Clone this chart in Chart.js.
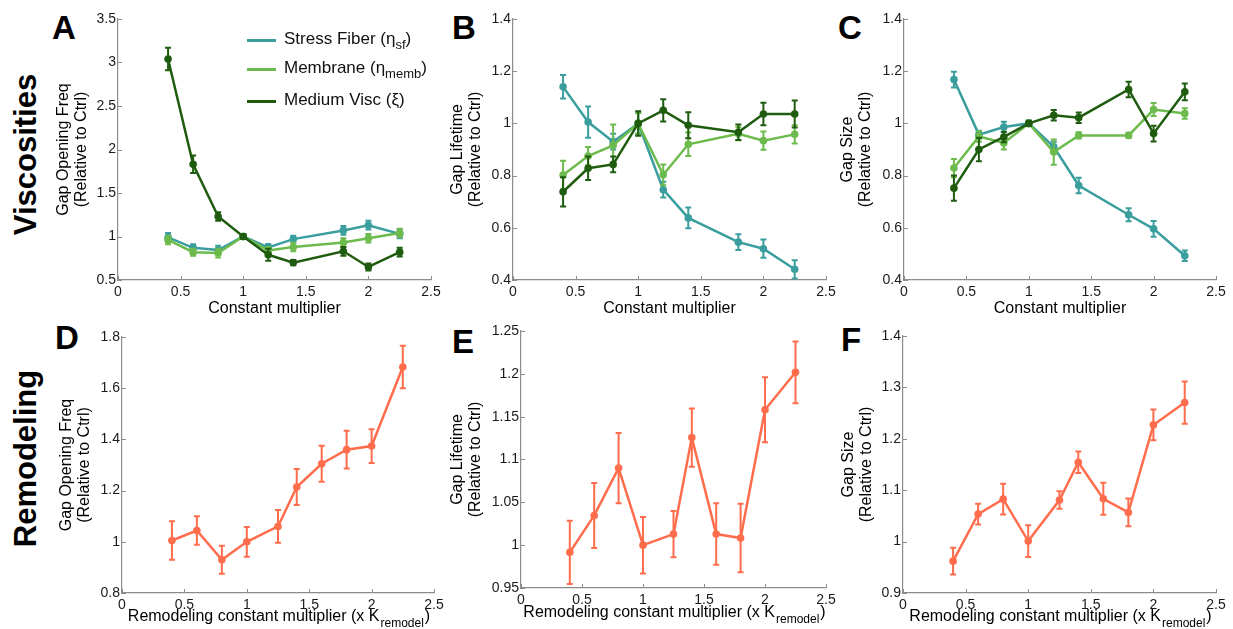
<!DOCTYPE html>
<html>
<head>
<meta charset="utf-8">
<script src="https://cdn.jsdelivr.net/npm/chart.js@4.4.1/dist/chart.umd.min.js"></script>
<style>
  body { margin: 0; background: #fff; font-family: "Liberation Sans", Arial, sans-serif; }
  #fig { position: relative; width: 1233px; height: 629px; overflow: hidden; }
  #fig canvas { position: absolute; }
  .letter { position: absolute; font-weight: bold; font-size: 33px; line-height: 33px; color: #000; }
  .row { position: absolute; width: 240px; text-align: center; font-weight: bold; font-size: 31px;
         line-height: 31px; transform: rotate(-90deg); white-space: nowrap; color: #000; }
  .leg { position: absolute; left: 284px; font-size: 17px; line-height: 20px; white-space: nowrap; color: #111; }
  .leg sub { font-size: 13px; vertical-align: -5px; line-height: 0; }
  .swatch { position: absolute; left: 247px; width: 29px; height: 3px; }
</style>
</head>
<body>
<div id="fig">
  <div class="row" style="left:-95px;top:139px">Viscosities</div>
  <div class="row" style="left:-95px;top:443px">Remodeling</div>

  <div class="letter" style="left:52px;top:11px">A</div>
  <div class="letter" style="left:452px;top:11px">B</div>
  <div class="letter" style="left:838px;top:11px">C</div>
  <div class="letter" style="left:55px;top:321px">D</div>
  <div class="letter" style="left:452px;top:325px">E</div>
  <div class="letter" style="left:841px;top:323px">F</div>
</div>

<script>
// ── Data ───────────────────────────────────────────────────
const xVisc  = [0.4, 0.6, 0.8, 1, 1.2, 1.4, 1.8, 2, 2.25];
const xRemod = [0.4, 0.6, 0.8, 1, 1.25, 1.4, 1.6, 1.8, 2, 2.25];
const xTicks = [0, 0.5, 1, 1.5, 2, 2.5];

// A: gap opening frequency
const freqSF      = [0.99, 0.87, 0.845, 1.0, 0.875, 0.97, 1.07, 1.13, 1.03];
const freqSFErr   = [0.05, 0.04, 0.05, 0.03, 0.04, 0.04, 0.05, 0.05, 0.05];
const freqMemb    = [0.96, 0.82, 0.81, 1.0, 0.84, 0.88, 0.93, 0.98, 1.04];
const freqMembErr = [0.05, 0.04, 0.05, 0.03, 0.04, 0.05, 0.05, 0.05, 0.05];
const freqMed     = [3.04, 1.83, 1.23, 1.0, 0.79, 0.70, 0.83, 0.65, 0.82];
const freqMedErr  = [0.13, 0.10, 0.05, 0.03, 0.07, 0.03, 0.05, 0.04, 0.05];

// B: gap lifetime
const lifeSF      = [1.14, 1.005, 0.93, 1.0, 0.746, 0.638, 0.545, 0.52, 0.441];
const lifeSFErr   = [0.045, 0.06, 0.03, 0.04, 0.03, 0.04, 0.03, 0.035, 0.035];
const lifeMemb    = [0.802, 0.875, 0.916, 1.0, 0.803, 0.92, 0.96, 0.934, 0.958];
const lifeMembErr = [0.055, 0.035, 0.08, 0.04, 0.04, 0.045, 0.025, 0.035, 0.035];
const lifeMed     = [0.738, 0.828, 0.843, 1.0, 1.05, 0.993, 0.966, 1.036, 1.036];
const lifeMedErr  = [0.056, 0.045, 0.03, 0.047, 0.043, 0.05, 0.03, 0.043, 0.052];

// C: gap size
const sizeSF      = [1.168, 0.957, 0.986, 1.0, 0.91, 0.762, 0.65, 0.596, 0.493];
const sizeSFErr   = [0.03, 0.015, 0.02, 0.01, 0.02, 0.03, 0.025, 0.03, 0.02];
const sizeMemb    = [0.829, 0.95, 0.925, 1.0, 0.89, 0.954, 0.954, 1.053, 1.038];
const sizeMembErr = [0.035, 0.02, 0.025, 0.01, 0.048, 0.012, 0.01, 0.025, 0.02];
const sizeMed     = [0.752, 0.90, 0.948, 1.0, 1.031, 1.022, 1.13, 0.961, 1.121];
const sizeMedErr  = [0.048, 0.045, 0.02, 0.01, 0.02, 0.02, 0.03, 0.03, 0.032];

// D-F: remodeling
const remFreq     = [1.005, 1.044, 0.93, 1.0, 1.06, 1.214, 1.305, 1.36, 1.374, 1.683];
const remFreqErr  = [0.075, 0.056, 0.055, 0.058, 0.064, 0.07, 0.07, 0.074, 0.066, 0.083];
const remLife     = [0.9916, 1.0347, 1.09, 1.0, 1.0129, 1.1256, 1.013, 1.0083, 1.158, 1.2018];
const remLifeErr  = [0.037, 0.038, 0.041, 0.033, 0.027, 0.034, 0.036, 0.04, 0.038, 0.036];
const remSize     = [0.962, 1.0535, 1.0826, 1.001, 1.081, 1.1545, 1.0833, 1.0567, 1.227, 1.2705];
const remSizeErr  = [0.026, 0.02, 0.03, 0.031, 0.017, 0.021, 0.031, 0.027, 0.03, 0.041];

// y tick labels per panel
const yTicksA = [0.5, 1, 1.5, 2, 2.5, 3, 3.5];
const yTicksB = [0.4, 0.6, 0.8, 1, 1.2, 1.4];
const yTicksC = [0.4, 0.6, 0.8, 1, 1.2, 1.4];
const yTicksD = [0.8, 1, 1.2, 1.4, 1.6, 1.8];
const yTicksE = [0.95, 1, 1.05, 1.1, 1.15, 1.2, 1.25];
const yTicksF = [0.9, 1, 1.1, 1.2, 1.3, 1.4];

// ── Style ──────────────────────────────────────────────────
const C_SF = '#3a9e9e', C_MEMB = '#6cbb4c', C_MED = '#1f5c0f', C_REM = '#ff6d4d';
const AXIS = '#8c8c8c';
const FONT = '"Liberation Sans", Arial, sans-serif';

Chart.defaults.font.family = FONT;
Chart.defaults.color = '#1a1a1a';

const fig = document.getElementById('fig');

// ── Plugins ────────────────────────────────────────────────
const errorBars = {
  id: 'errorBars',
  afterDatasetDraw(chart, args) {
    const ds = chart.data.datasets[args.index];
    if (!ds.errors) return;
    const { x: xs, y: ys } = chart.scales;
    const ctx = chart.ctx;
    ctx.save();
    ctx.strokeStyle = ds.borderColor;
    ctx.lineWidth = 2;
    ds.data.forEach((d, i) => {
      const e = ds.errors[i];
      const px = xs.getPixelForValue(d.x);
      const top = ys.getPixelForValue(d.y + e);
      const bot = ys.getPixelForValue(d.y - e);
      ctx.beginPath();
      ctx.moveTo(px, top); ctx.lineTo(px, bot);
      ctx.moveTo(px - 3, top); ctx.lineTo(px + 3, top);
      ctx.moveTo(px - 3, bot); ctx.lineTo(px + 3, bot);
      ctx.stroke();
    });
    ctx.restore();
  }
};

// short MATLAB-style ticks pointing into the plot
const innerTicks = {
  id: 'innerTicks',
  afterDraw(chart) {
    const { x, y } = chart.scales;
    const a = chart.chartArea, ctx = chart.ctx;
    ctx.save();
    ctx.strokeStyle = AXIS;
    ctx.lineWidth = 1;
    ctx.beginPath();
    x.ticks.forEach(t => {
      const p = Math.round(x.getPixelForValue(t.value)) + 0.5;
      ctx.moveTo(p, a.bottom); ctx.lineTo(p, a.bottom - 4);
    });
    y.ticks.forEach(t => {
      const p = Math.round(y.getPixelForValue(t.value)) + 0.5;
      ctx.moveTo(a.left, p); ctx.lineTo(a.left + 4, p);
    });
    ctx.stroke();
    ctx.restore();
  }
};

// x-axis title with optional subscript, e.g. (x K_remodel)
const xTitle = {
  id: 'xTitle',
  afterDraw(chart, args, opts) {
    if (!opts.text) return;
    const ctx = chart.ctx, a = chart.chartArea;
    ctx.save();
    ctx.fillStyle = '#000';
    ctx.textBaseline = 'alphabetic';
    ctx.textAlign = 'left';
    ctx.font = '16px ' + FONT;
    const w1 = ctx.measureText(opts.text).width;
    const w3 = opts.sub ? ctx.measureText(')').width : 0;
    ctx.font = '12px ' + FONT;
    const w2 = opts.sub ? ctx.measureText(opts.sub).width : 0;
    let x0 = (a.left + a.right) / 2 - (w1 + w2 + w3) / 2;
    const yb = a.bottom + opts.offset;
    ctx.font = '16px ' + FONT;
    ctx.fillText(opts.text, x0, yb);
    if (opts.sub) {
      ctx.font = '12px ' + FONT;
      ctx.fillText(opts.sub, x0 + w1 + 1, yb + 6);
      ctx.font = '16px ' + FONT;
      ctx.fillText(')', x0 + w1 + w2 + 2, yb);
    }
    ctx.restore();
  }
};

// ── Panel builder ──────────────────────────────────────────
function series(xs, ys, errs, color, order) {
  return {
    data: xs.map((x, i) => ({ x, y: ys[i] })),
    errors: errs,
    borderColor: color,
    backgroundColor: color,
    borderWidth: 2.5,
    pointRadius: 3.8,
    pointBorderWidth: 0,
    pointBackgroundColor: color,
    order,
  };
}

function panel(p) {
  const [bl, bt, bw, bh] = p.box;
  const [al, at, ar, ab] = p.area;
  const cv = document.createElement('canvas');
  cv.width = bw; cv.height = bh;
  cv.style.left = bl + 'px'; cv.style.top = bt + 'px';
  fig.appendChild(cv);

  const yW = al - bl, xH = bt + bh - ab;

  new Chart(cv, {
    type: 'line',
    data: { datasets: p.datasets },
    options: {
      responsive: false,
      animation: false,
      devicePixelRatio: 1,
      layout: { padding: { left: 0, top: at - bt, right: bl + bw - ar, bottom: 0 } },
      plugins: {
        legend: { display: false },
        tooltip: { enabled: false },
        xTitle: { text: p.xTitle, sub: p.xSub, offset: p.xOffset },
      },
      scales: {
        x: {
          type: 'linear', min: 0, max: 2.5,
          afterBuildTicks: s => { s.ticks = xTicks.map(v => ({ value: v })); },
          afterFit: s => { s.height = xH; s.paddingLeft = 0; s.paddingRight = 0; },
          grid: { drawOnChartArea: false, drawTicks: false },
          border: { display: true, color: AXIS, width: 1.2 },
          ticks: { padding: 4, font: { size: 14 }, maxRotation: 0, callback: v => String(v) },
        },
        y: {
          type: 'linear', min: p.yTicks[0], max: p.yTicks[p.yTicks.length - 1],
          afterBuildTicks: s => { s.ticks = p.yTicks.map(v => ({ value: v })); },
          afterFit: s => { s.width = yW; s.paddingTop = 0; s.paddingBottom = 0; },
          grid: { drawOnChartArea: false, drawTicks: false },
          border: { display: true, color: AXIS, width: 1.2 },
          ticks: { padding: 2, font: { size: 14 }, callback: v => String(v) },
          title: {
            display: true,
            text: p.yTitle,
            color: '#000',
            font: { size: 16, lineHeight: 1.125 },
            padding: { top: p.yTitleX - bl - 9, bottom: 0 },
          },
        },
      },
    },
    plugins: [errorBars, innerTicks, xTitle],
  });
}

const viscSets = (sf, sfE, mb, mbE, md, mdE) => [
  series(xVisc, sf, sfE, C_SF, 2),
  series(xVisc, mb, mbE, C_MEMB, 1),
  series(xVisc, md, mdE, C_MED, 0),
];

const remXTitle = 'Remodeling constant multiplier (x K';

panel({ box: [40, 0, 410, 320], area: [118, 19, 431, 280], yTicks: yTicksA,
  yTitle: ['Gap Opening Freq', '(Relative to Ctrl)'], yTitleX: 64,
  xTitle: 'Constant multiplier', xOffset: 33,
  datasets: viscSets(freqSF, freqSFErr, freqMemb, freqMembErr, freqMed, freqMedErr) });

panel({ box: [435, 0, 410, 320], area: [513, 19, 826, 280], yTicks: yTicksB,
  yTitle: ['Gap Lifetime', '(Relative to Ctrl)'], yTitleX: 458,
  xTitle: 'Constant multiplier', xOffset: 33,
  datasets: viscSets(lifeSF, lifeSFErr, lifeMemb, lifeMembErr, lifeMed, lifeMedErr) });

panel({ box: [826, 0, 407, 320], area: [904, 19, 1216, 280], yTicks: yTicksC,
  yTitle: ['Gap Size', '(Relative to Ctrl)'], yTitleX: 848,
  xTitle: 'Constant multiplier', xOffset: 33,
  datasets: viscSets(sizeSF, sizeSFErr, sizeMemb, sizeMembErr, sizeMed, sizeMedErr) });

panel({ box: [40, 320, 410, 309], area: [122, 337, 434, 593], yTicks: yTicksD,
  yTitle: ['Gap Opening Freq', '(Relative to Ctrl)'], yTitleX: 67,
  xTitle: remXTitle, xSub: 'remodel', xOffset: 28,
  datasets: [series(xRemod, remFreq, remFreqErr, C_REM, 0)] });

panel({ box: [435, 320, 410, 309], area: [521, 331, 826, 588], yTicks: yTicksE,
  yTitle: ['Gap Lifetime', '(Relative to Ctrl)'], yTitleX: 458,
  xTitle: remXTitle, xSub: 'remodel', xOffset: 29,
  datasets: [series(xRemod, remLife, remLifeErr, C_REM, 0)] });

panel({ box: [826, 320, 407, 309], area: [903, 336, 1216, 593], yTicks: yTicksF,
  yTitle: ['Gap Size', '(Relative to Ctrl)'], yTitleX: 849,
  xTitle: remXTitle, xSub: 'remodel', xOffset: 28,
  datasets: [series(xRemod, remSize, remSizeErr, C_REM, 0)] });

// ── Legend (panel A) ───────────────────────────────────────
const legendRows = [
  { y: 40,  color: C_SF,   html: 'Stress Fiber (&eta;<sub>sf</sub>)' },
  { y: 69,  color: C_MEMB, html: 'Membrane (&eta;<sub>memb</sub>)' },
  { y: 101, color: C_MED,  html: 'Medium Visc (&xi;)' },
];
legendRows.forEach(r => {
  const sw = document.createElement('div');
  sw.className = 'swatch';
  sw.style.top = (r.y - 1.5) + 'px';
  sw.style.background = r.color;
  fig.appendChild(sw);
  const t = document.createElement('div');
  t.className = 'leg';
  t.style.top = (r.y - 11) + 'px';
  t.innerHTML = r.html;
  fig.appendChild(t);
});
</script>
</body>
</html>
